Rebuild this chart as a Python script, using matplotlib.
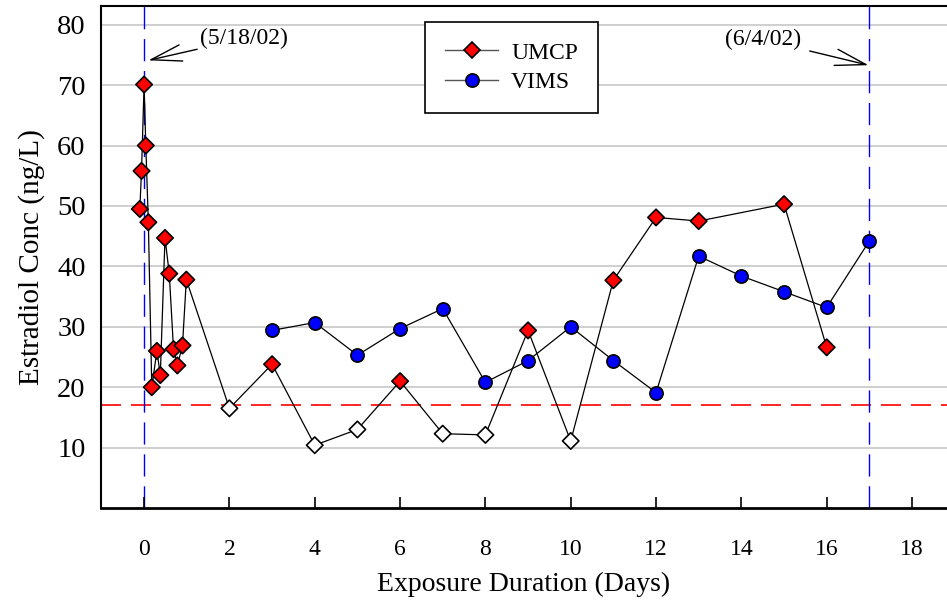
import matplotlib
matplotlib.use("Agg")
import matplotlib.pyplot as plt
import numpy as np

plt.rcParams['font.family'] = ['Liberation Serif', 'DejaVu Serif']

# UMCP samples (days, ng/L)
umcp_days = [-0.10, -0.06, 0.0, 0.04, 0.10, 0.18, 0.30, 0.38, 0.49, 0.59, 0.69, 0.78, 0.90, 0.99,
             2, 3, 4, 5, 6, 7, 8, 9, 10, 11, 12, 13, 15, 16]
umcp_conc = [49.5, 55.8, 70.1, 60.0, 47.3, 20.0, 26.0, 22.0, 44.7, 38.8, 26.3, 23.6, 26.9, 37.8,
             16.5, 23.8, 10.4, 13.0, 21.0, 12.3, 12.1, 29.4, 11.1, 37.7, 48.1, 47.5, 50.3, 26.6]

# VIMS samples
vims_days = [3, 4, 5, 6, 7, 8, 9, 10, 11, 12, 13, 14, 15, 16, 17]
vims_conc = [29.4, 30.7, 25.3, 29.7, 33.0, 20.8, 24.4, 30.0, 24.4, 19.1, 41.7, 38.4, 35.8, 33.2, 44.2]

detect_limit = 17.0
start_day, end_day = 0, 17

fig = plt.figure(figsize=(9.47, 6.04), dpi=100)
ax = fig.add_axes([101/947, 1 - 508/604, 1 - 101/947, 502/604])

ax.set_xlim(-1.01, 18.82)
ax.set_ylim(0, 83.1)

# grid
for v in range(10, 90, 10):
    ax.axhline(v, color='#cfcfcf', lw=1.4, zorder=0)

ax.axhline(detect_limit, color='red', lw=1.2, dashes=(12, 6), zorder=1)
for d in (start_day, end_day):
    ax.axvline(d, color='blue', lw=1.0, dashes=(16, 7), zorder=1)

# UMCP line + markers (open when below detection limit)
ax.plot(umcp_days, umcp_conc, color='black', lw=0.9, zorder=2)
fc = ['white' if c < detect_limit else 'red' for c in umcp_conc]
ax.scatter(umcp_days, umcp_conc, marker='D', s=70, c=fc, edgecolors='black', linewidths=1.2, zorder=4)

ax.plot(vims_days, vims_conc, color='black', lw=0.9, marker='o', ms=9.5,
        mfc='blue', mec='black', mew=1.2, zorder=3)

# legend proxies
h1, = ax.plot([], [], color='#555555', lw=1, marker='D', ms=8.5, mfc='red', mec='black', mew=1.2)
h2, = ax.plot([], [], color='#555555', lw=1, marker='o', ms=9.5, mfc='blue', mec='black', mew=1.2)
leg = fig.legend([h1, h2], ['UMCP', 'VIMS'], loc='upper left',
                 bbox_to_anchor=(425/947, 1 - 22/604), borderaxespad=0,
                 fancybox=False, edgecolor='black', framealpha=1, fontsize=17,
                 handlelength=2.25, handletextpad=0.55, borderpad=0.85, labelspacing=0.35)
leg.get_frame().set_linewidth(1.2)

ax.annotate('(5/18/02)', xy=(0.1, 74.1), xytext=(1.31, 77.7), fontsize=17,
            va='center', ha='left',
            arrowprops=dict(arrowstyle='->,head_length=1.3,head_width=0.35', color='black', lw=1.0,
                            shrinkA=0, shrinkB=0))
ax.annotate('(6/4/02)', xy=(16.98, 73.3), xytext=(15.41, 77.5), fontsize=17,
            va='center', ha='right',
            arrowprops=dict(arrowstyle='->,head_length=1.3,head_width=0.35', color='black', lw=1.0,
                            shrinkA=4, shrinkB=0))

ax.set_xticks(np.arange(0, 19, 2))
ax.set_yticks(np.arange(10, 90, 10))
ax.tick_params(axis='x', direction='in', length=8, width=1.2, labelsize=17, pad=22)
ax.tick_params(axis='y', length=0, labelsize=20.5, pad=11)

ax.spines['right'].set_visible(False)
ax.spines['left'].set_linewidth(1.5)
ax.spines['top'].set_linewidth(1.5)
ax.spines['bottom'].set_linewidth(2.0)

ax.set_xlabel('Exposure Duration (Days)', fontsize=20, labelpad=9)
ax.set_ylabel('Estradiol Conc (ng/L)', fontsize=21, labelpad=9)

fig.savefig('out.png', dpi=100)
